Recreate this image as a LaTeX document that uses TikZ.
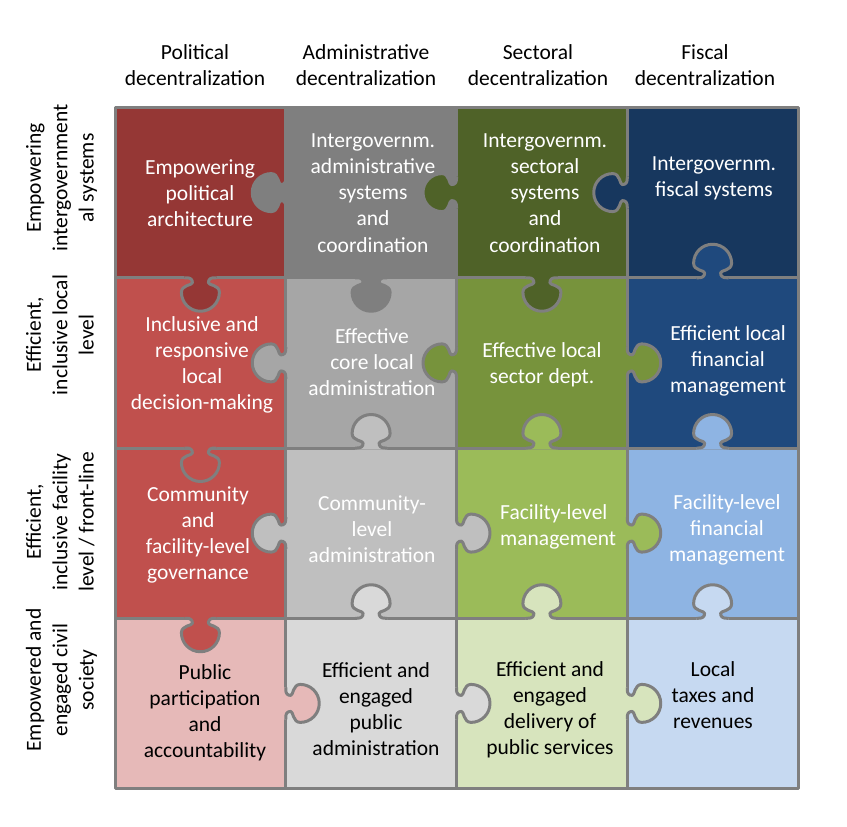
\documentclass[tikz,border=0pt]{standalone}
\usepackage{fontspec}
\setmainfont{Carlito}
\definecolor{edgegray}{HTML}{7F7F7F}
\definecolor{cA1}{HTML}{953735}
\definecolor{cA2}{HTML}{C0504D}
\definecolor{cA3}{HTML}{C0504D}
\definecolor{cA4}{HTML}{E6B9B8}
\definecolor{cB1}{HTML}{7F7F7F}
\definecolor{cB2}{HTML}{A6A6A6}
\definecolor{cB3}{HTML}{BFBFBF}
\definecolor{cB4}{HTML}{D9D9D9}
\definecolor{cC1}{HTML}{4F6228}
\definecolor{cC2}{HTML}{77933C}
\definecolor{cC3}{HTML}{9BBB59}
\definecolor{cC4}{HTML}{D7E4BD}
\definecolor{cD1}{HTML}{17375E}
\definecolor{cD2}{HTML}{1F497D}
\definecolor{cD3}{HTML}{8EB4E3}
\definecolor{cD4}{HTML}{C6D9F1}
\newcommand\cellfont{\fontsize{21.5}{26.3}\selectfont}
\newcommand\lns[1]{\begin{tabular}[t]{@{}c@{}}#1\end{tabular}}
\newcommand\lnsl[1]{\begin{tabular}[t]{@{}l@{}}#1\end{tabular}}
\tikzset{
  gridline/.style={draw=edgegray, line width=3pt, line join=round, line cap=butt},
  celltext/.style={anchor=base, inner sep=0pt, font=\cellfont, text=white},
  darktext/.style={celltext, text=black},
  headtext/.style={anchor=base, inner sep=0pt, font=\cellfont, text=black},
  rowtext/.style={anchor=base, inner sep=0pt, font=\cellfont, text=black, rotate=90},
}
% knob: #1 x, #2 y, #3 rotation (0 down, 180 up, 90 right, -90 left), #4 colour
\newcommand\knob[4]{%
  \begin{scope}[shift={(#1,#2)}, rotate=#3]
    \fill[#4] (-16,-1.6) -- (-16,0) -- (-14,0)
      .. controls (-10,0) and (-8,1.5) .. (-8,5)
      .. controls (-8,7.5) and (-19,7) .. (-19,14.5)
      arc[start angle=180, end angle=0, radius=19]
      .. controls (19,7) and (8,7.5) .. (8,5)
      .. controls (8,1.5) and (10,0) .. (14,0) -- (16,0) -- (16,-1.6) -- cycle;
    \draw[gridline] (-16,0) -- (-14,0)
      .. controls (-10,0) and (-8,1.5) .. (-8,5)
      .. controls (-8,7.5) and (-19,7) .. (-19,14.5)
      arc[start angle=180, end angle=0, radius=19]
      .. controls (19,7) and (8,7.5) .. (8,5)
      .. controls (8,1.5) and (10,0) .. (14,0) -- (16,0);
  \end{scope}}
\begin{document}
\begin{tikzpicture}[x=1pt, y=-1pt]
\useasboundingbox (0,0) rectangle (847,827);
% grid coordinates
\def\Xa{115}\def\Xb{285.75}\def\Xc{456.5}\def\Xd{627.25}\def\Xe{798}
\def\Ya{107.5}\def\Yb{277.75}\def\Yc{448}\def\Yd{618.25}\def\Ye{788.5}
\def\Ca{200.4}\def\Cb{371.1}\def\Cc{541.9}\def\Cd{712.6}
\def\Ra{192.6}\def\Rb{362.9}\def\Rc{533.1}\def\Rd{703.4}
% cells
\fill[cA1] (\Xa,\Ya) rectangle (\Xb,\Yb);
\fill[cA2] (\Xa,\Yb) rectangle (\Xb,\Yc);
\fill[cA3] (\Xa,\Yc) rectangle (\Xb,\Yd);
\fill[cA4] (\Xa,\Yd) rectangle (\Xb,\Ye);
\fill[cB1] (\Xb,\Ya) rectangle (\Xc,\Yb);
\fill[cB2] (\Xb,\Yb) rectangle (\Xc,\Yc);
\fill[cB3] (\Xb,\Yc) rectangle (\Xc,\Yd);
\fill[cB4] (\Xb,\Yd) rectangle (\Xc,\Ye);
\fill[cC1] (\Xc,\Ya) rectangle (\Xd,\Yb);
\fill[cC2] (\Xc,\Yb) rectangle (\Xd,\Yc);
\fill[cC3] (\Xc,\Yc) rectangle (\Xd,\Yd);
\fill[cC4] (\Xc,\Yd) rectangle (\Xd,\Ye);
\fill[cD1] (\Xd,\Ya) rectangle (\Xe,\Yb);
\fill[cD2] (\Xd,\Yb) rectangle (\Xe,\Yc);
\fill[cD3] (\Xd,\Yc) rectangle (\Xe,\Yd);
\fill[cD4] (\Xd,\Yd) rectangle (\Xe,\Ye);
% inner grid lines
\foreach \x in {\Xb,\Xc,\Xd} \draw[gridline] (\x,\Ya) -- (\x,\Ye);
\foreach \y in {\Yb,\Yc,\Yd} \draw[gridline] (\Xa,\y) -- (\Xe,\y);
% knobs on vertical edges
\knob{\Xb}{\Ra}{-90}{cB1}
\knob{\Xc}{\Ra}{-90}{cC1}
\knob{\Xd}{\Ra}{-90}{cD1}
\knob{\Xb}{\Rb}{-90}{cB2}
\knob{\Xc}{\Rb}{-90}{cC2}
\knob{\Xd}{\Rb}{90}{cC2}
\knob{\Xb}{\Rc}{-90}{cB3}
\knob{\Xc}{\Rc}{90}{cB3}
\knob{\Xd}{\Rc}{90}{cC3}
\knob{\Xb}{\Rd}{90}{cA4}
\knob{\Xc}{\Rd}{90}{cB4}
\knob{\Xd}{\Rd}{90}{cC4}
% knobs on horizontal edges
\knob{\Ca}{\Yb}{0}{cA1}
\knob{\Cb}{\Yb}{0}{cB1}
\knob{\Cc}{\Yb}{0}{cC1}
\knob{\Cd}{\Yb}{180}{cD2}
\knob{\Ca}{\Yc}{0}{cA2}
\knob{\Cb}{\Yc}{180}{cB3}
\knob{\Cc}{\Yc}{180}{cC3}
\knob{\Cd}{\Yc}{180}{cD3}
\knob{\Ca}{\Yd}{0}{cA3}
\knob{\Cb}{\Yd}{180}{cB4}
\knob{\Cc}{\Yd}{180}{cC4}
\knob{\Cd}{\Yd}{180}{cD4}
% outer frame
\draw[gridline] (\Xa,\Ya) rectangle (\Xe,\Ye);
% column headers
\node[headtext] (h1) at (195,59) {\lns{Political\\decentralization}};
\node[headtext] (h2) at (366,59) {\lns{Administrative\\decentralization}};
\node[headtext] (h3) at (538,59) {\lns{Sectoral\\decentralization}};
\node[headtext] (h4) at (705,59) {\lns{Fiscal\\decentralization}};
% row headers
\node[rowtext] (r1) at (41,178) {\lns{Empowering\\intergovernment\\al systems}};
\node[rowtext] (r2) at (41,335) {\lns{Efficient,\\inclusive local\\level}};
\node[rowtext] (r3) at (41,522) {\lns{Efficient,\\inclusive facility\\level / front-line}};
\node[rowtext] (r4) at (41,680) {\lns{Empowered and\\engaged civil\\society}};
% cell texts
\node[celltext] (t11) at (200,174) {\lns{Empowering\\political\\architecture}};
\node[celltext] (t12) at (373,147) {\lns{Intergovernm.\\administrative\\systems\\and\\coordination}};
\node[celltext] (t13) at (545,147) {\lns{Intergovernm.\\sectoral\\systems\\and\\coordination}};
\node[celltext] (t14) at (714,170) {\lns{Intergovernm.\\fiscal systems}};
\node[celltext] (t21) at (202,331) {\lns{Inclusive and\\responsive\\local\\decision-making}};
\node[celltext] (t22) at (372,343) {\lns{Effective\\core local\\administration}};
\node[celltext] (t23) at (542,357) {\lns{Effective local\\sector dept.}};
\node[celltext] (t24) at (728,340) {\lns{Efficient local\\financial\\management}};
\node[celltext] (t31) at (198,501) {\lns{Community\\and\\facility-level\\governance}};
\node[celltext] (t32) at (372,510) {\lns{Community-\\level\\administration}};
\node[celltext, anchor=base west] (t33) at (500,519) {\lnsl{Facility-level\\management}};
\node[celltext] (t34) at (727,509) {\lns{Facility-level\\financial\\management}};
\node[darktext] (t41) at (205,679) {\lns{Public\\participation\\and\\accountability}};
\node[darktext] (t42) at (376,677) {\lns{Efficient and\\engaged\\public\\administration}};
\node[darktext] (t43) at (550,676) {\lns{Efficient and\\engaged\\delivery of\\public services}};
\node[darktext] (t44) at (713,676) {\lns{Local\\taxes and\\revenues}};
\end{tikzpicture}
\end{document}
